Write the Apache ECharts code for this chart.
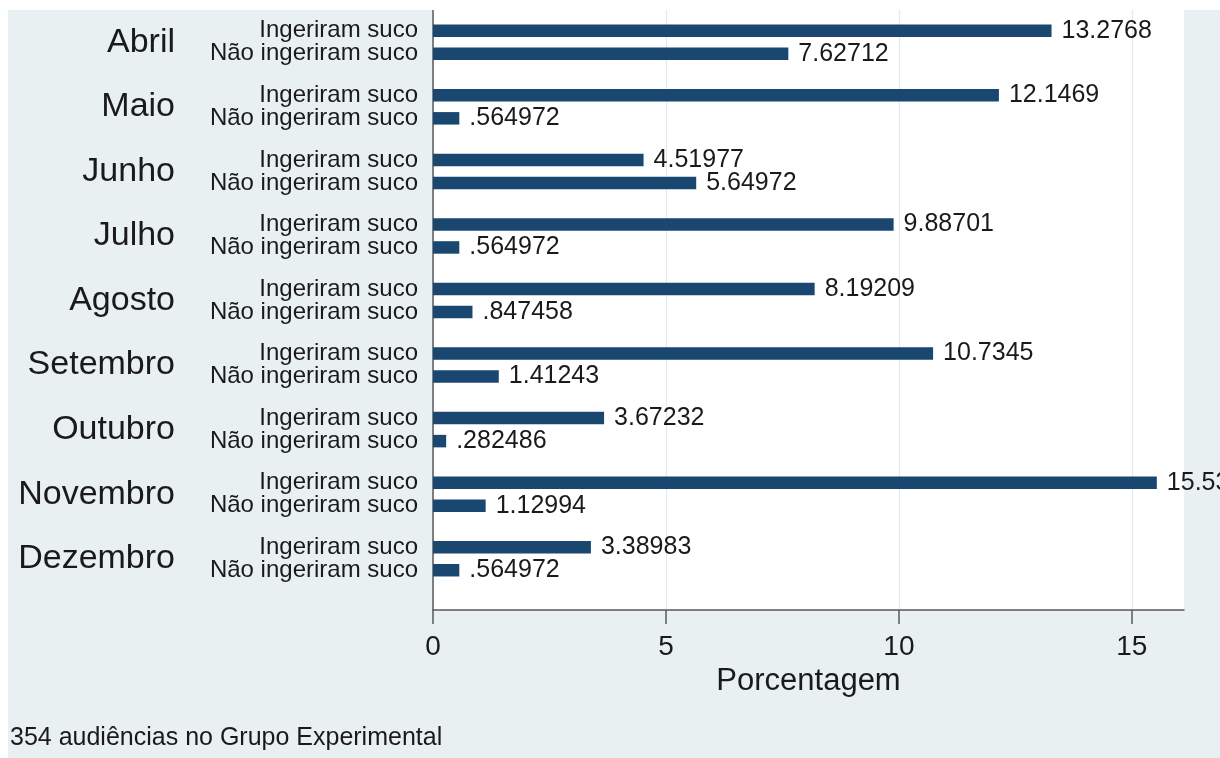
<!DOCTYPE html>
<html>
<head>
<meta charset="utf-8">
<script src="https://cdn.jsdelivr.net/npm/echarts@6/dist/echarts.min.js"></script>
<style>
html,body{margin:0;padding:0;background:#ffffff;width:1220px;height:758px;overflow:hidden;}
#chart{position:absolute;left:8px;top:10px;width:1212px;height:748px;}
</style>
</head>
<body>
<div id="chart"></div>
<script>
// ---- data ----
const months = ['Abril','Maio','Junho','Julho','Agosto','Setembro','Outubro','Novembro','Dezembro'];
const groupLabels = ['Ingeriram suco','Não ingeriram suco'];
const ingeriram = [13.2768, 12.1469, 4.51977, 9.88701, 8.19209, 10.7345, 3.67232, 15.5367, 3.38983];
const naoIngeriram = [7.62712, 0.564972, 5.64972, 0.564972, 0.847458, 1.41243, 0.282486, 1.12994, 0.564972];
const xTicks = [0, 5, 10, 15];
const axisTitle = 'Porcentagem';
const footnote = '354 audiências no Grupo Experimental';

// ---- styles ----
const FONT = '"Liberation Sans", Arial, sans-serif';
const BG = '#e8f0f2';
const BAR = '#1a476f';
const AXIS = '#5a5a5a';
const TXT = '#1a1a1a';
const XMAX = 16.12;

const fmt = v => String(v).replace(/^0\./, '.');

const chart = echarts.init(document.getElementById('chart'), null, {renderer: 'canvas'});
const option = {
  backgroundColor: BG,
  animation: false,
  textStyle: {fontFamily: FONT},
  title: {
    text: footnote, left: 2, top: 716, padding: 0,
    textStyle: {fontFamily: FONT, fontSize: 25, fontWeight: 'normal', color: TXT}
  },
  grid: [
    {left: 425, right: 36, top: -5, bottom: 167, containLabel: false},
    {left: 425, right: 36, top: 0, bottom: 148, show: true, backgroundColor: '#ffffff', borderWidth: 0, containLabel: false}
  ],
  xAxis: [
    {gridIndex: 0, type: 'value', min: 0, max: XMAX, show: false},
    {
      gridIndex: 1, type: 'value', min: 0, max: XMAX, interval: 5,
      axisLine: {show: true, lineStyle: {color: AXIS, width: 1.5}},
      axisTick: {show: true, length: 14, customValues: xTicks, lineStyle: {color: AXIS, width: 1.5}},
      axisLabel: {show: true, customValues: xTicks, fontSize: 28, color: TXT, margin: 23, fontFamily: FONT},
      splitLine: {show: true, lineStyle: {color: '#e1eaed', width: 1.2}},
      name: axisTitle, nameLocation: 'middle', nameGap: 54,
      nameTextStyle: {fontSize: 31, color: TXT, fontFamily: FONT}
    }
  ],
  yAxis: [
    {
      gridIndex: 0, type: 'category', data: months, inverse: true, position: 'left',
      axisLine: {show: false}, axisTick: {show: false}, splitLine: {show: false},
      axisLabel: {
        margin: 15, align: 'right', fontSize: 24, lineHeight: 23, color: TXT, fontFamily: FONT,
        formatter: () => groupLabels.join('\n')
      }
    },
    {
      gridIndex: 0, type: 'category', data: months, inverse: true, position: 'left', offset: 0,
      axisLine: {show: false}, axisTick: {show: false}, splitLine: {show: false},
      axisLabel: {margin: 258, align: 'right', fontSize: 34, color: TXT, fontFamily: FONT}
    },
    {
      gridIndex: 1, type: 'value', min: 0, max: 1,
      axisLine: {show: true, lineStyle: {color: AXIS, width: 1.5}},
      axisTick: {show: false}, axisLabel: {show: false}, splitLine: {show: false}
    }
  ],
  series: [
    {
      name: groupLabels[0], type: 'bar', xAxisIndex: 0, yAxisIndex: 0,
      data: ingeriram, barWidth: 12.5, barGap: '84%',
      itemStyle: {color: BAR},
      label: {show: true, position: 'right', distance: 10, fontSize: 25, color: TXT, fontFamily: FONT, formatter: p => fmt(p.value)}
    },
    {
      name: groupLabels[1], type: 'bar', xAxisIndex: 0, yAxisIndex: 0,
      data: naoIngeriram, barWidth: 12.5, barGap: '84%',
      itemStyle: {color: BAR},
      label: {show: true, position: 'right', distance: 10, fontSize: 25, color: TXT, fontFamily: FONT, formatter: p => fmt(p.value)}
    }
  ]
};
chart.setOption(option);
</script>
</body>
</html>
